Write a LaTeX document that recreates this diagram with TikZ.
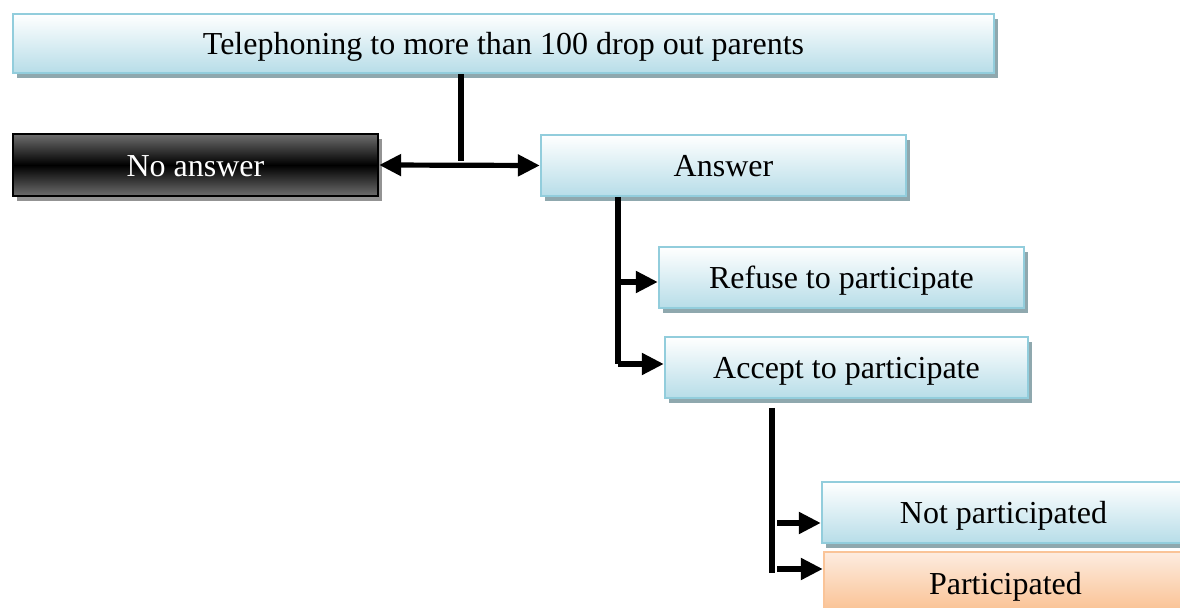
\documentclass[tikz,border=0pt]{standalone}
\usepackage{fontspec}
\setmainfont{Liberation Serif}
\usetikzlibrary{arrows.meta,shadows}
\definecolor{bluedge}{RGB}{146,205,220}
\definecolor{bluebot}{RGB}{183,221,232}
\definecolor{shadowgray}{RGB}{143,168,174}
\definecolor{darkgray6}{RGB}{110,110,110}
\definecolor{orangetop}{RGB}{253,236,224}
\definecolor{orangebot}{RGB}{250,192,144}
\definecolor{orangeedge}{RGB}{250,196,152}
\tikzset{
  boxbase/.style={rectangle, inner sep=0pt, line width=1.2pt,
    font=\fontsize{16}{18}\selectfont, text height=11.4pt, text depth=0pt},
  bluebox/.style={boxbase, draw=bluedge, top color=white, bottom color=bluebot,
    drop shadow={shadow xshift=1.8pt, shadow yshift=-2.4pt, fill=shadowgray, opacity=1}},
  blackbox/.style={boxbase, draw=black, top color=darkgray6, bottom color=darkgray6,
    middle color=black, text=white,
    drop shadow={shadow xshift=1.8pt, shadow yshift=-2.4pt, fill=gray!85, opacity=1}},
  orangebox/.style={boxbase, draw=orangeedge, top color=orangetop, bottom color=orangebot},
  conn/.style={line width=2.6pt, black},
  tipk/.tip={Triangle[length=11pt,width=10.5pt]},
  arr/.style={conn, -tipk},
}
\begin{document}
\begin{tikzpicture}[x=0.5pt,y=-0.5pt]
\useasboundingbox (0,0) rectangle (1180,608);
\clip (0,0) rectangle (1180,608);
% nodes
\node[bluebox, minimum width=490.5pt, minimum height=29.5pt] (top) at (503.5,43.5) {Telephoning to more than 100 drop out parents};
\node[blackbox, minimum width=182.5pt, minimum height=31pt] (noans) at (195.5,165) {No answer};
\node[bluebox, minimum width=182.5pt, minimum height=30.5pt] (ans) at (723.5,165.5) {Answer};
\node[bluebox, minimum width=182.5pt, minimum height=30.5pt] (refuse) at (841.5,277.5) {Refuse to participate};
\node[bluebox, minimum width=181.5pt, minimum height=30.5pt] (accept) at (846.5,367.5) {Accept to participate};
\node[bluebox, minimum width=181.5pt, minimum height=30.5pt] (notp) at (1003.5,512.5) {Not participated};
\node[orangebox, minimum width=181.5pt, minimum height=31pt] (part) at (1005.5,583) {Participated};
% coordinates
\coordinate (j1) at (461,161);
\coordinate (a1) at (618,364);
\coordinate (a2) at (618,282);
\coordinate (b0) at (772,408);
\coordinate (b1) at (772,573);
\coordinate (b2) at (777,523);
\coordinate (b3) at (777,569);
% connectors
\draw[conn] (top.south -| j1) -- (j1);
\draw[conn, tipk-tipk] (noans.east) -- (ans.west);
\draw[conn] (ans.south -| a1) -- (a1);
\draw[arr] (a1) -- (a1 -| accept.west);
\draw[arr] (a2) -- (a2 -| refuse.west);
\draw[conn] (b0) -- (b1);
\draw[arr] (b2) -- (b2 -| notp.west);
\draw[arr] (b3) -- (b3 -| part.west);
\end{tikzpicture}
\end{document}
